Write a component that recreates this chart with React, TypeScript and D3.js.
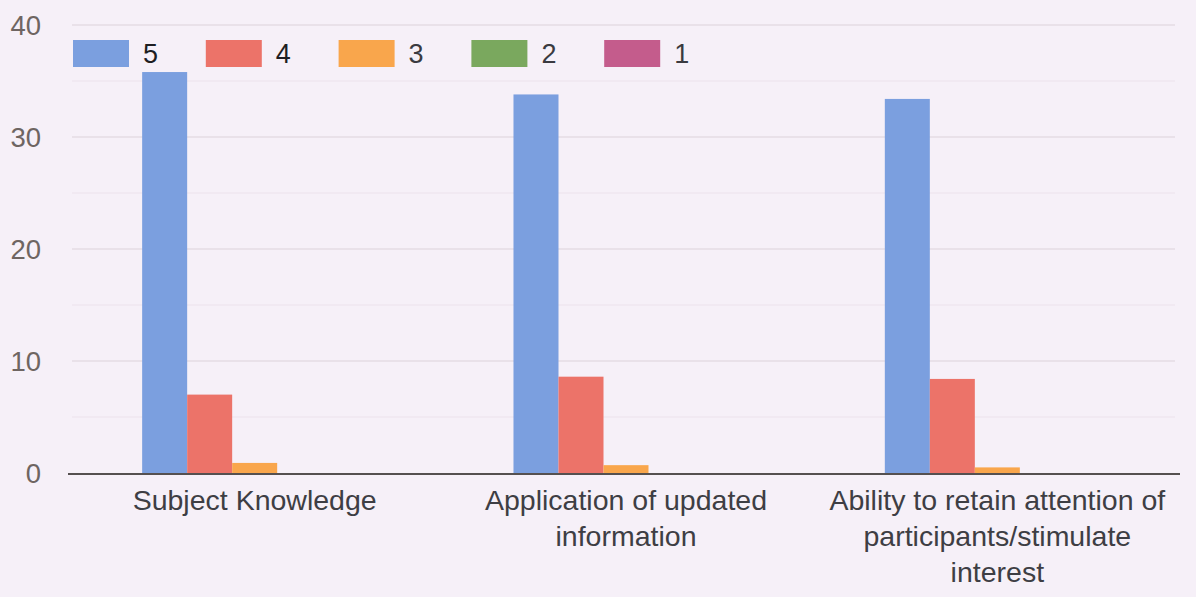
import React, { useEffect, useRef } from "react";
import * as d3 from "d3";

const categories = [
  "Subject Knowledge",
  "Application of updated information",
  "Ability to retain attention of participants/stimulate interest",
];
const seriesNames = ["5", "4", "3", "2", "1"];
const series5 = [35.8, 33.8, 33.4];
const series4 = [7.0, 8.6, 8.4];
const series3 = [0.9, 0.7, 0.5];
const series2 = [0, 0, 0];
const series1 = [0, 0, 0];
const seriesValues = [series5, series4, series3, series2, series1];
const seriesColors = ["#7b9fdf", "#ec7369", "#f9a64c", "#7aa85e", "#c45c8c"];
const yTicks = [0, 10, 20, 30, 40];
const gridTicks = [5, 10, 15, 20, 25, 30, 35, 40];

const W = 1196;
const H = 597;
const FONT = "'Liberation Sans', Arial, sans-serif";

export default function App() {
  const ref = useRef<SVGSVGElement | null>(null);

  useEffect(() => {
    document.body.style.margin = "0";
    const svg = d3.select(ref.current);
    svg.selectAll("*").remove();

    svg.append("rect").attr("width", W).attr("height", H).attr("fill", "#f6f0f8");

    const left = 69;
    const right = 1183;
    const y = d3.scaleLinear().domain([0, 40]).range([473, 25]);
    const x0 = d3.scaleBand<string>().domain(categories).range([left, right]).paddingInner(0);
    const groupW = x0.bandwidth() * 0.606;
    const x1 = d3.scaleBand<string>().domain(seriesNames).range([0, groupW]).padding(0);

    // gridlines
    svg
      .append("g")
      .selectAll("line")
      .data(gridTicks)
      .join("line")
      .attr("x1", left + 3)
      .attr("x2", right - 8)
      .attr("y1", (d) => y(d))
      .attr("y2", (d) => y(d))
      .attr("stroke", (d) => (d % 10 === 0 ? "#dcd2da" : "#ebe2ec"))
      .attr("stroke-width", 1.2);

    // y labels
    svg
      .append("g")
      .selectAll("text")
      .data(yTicks)
      .join("text")
      .attr("x", 41)
      .attr("y", (d) => y(d))
      .attr("dy", "0.36em")
      .attr("text-anchor", "end")
      .attr("font-family", FONT)
      .attr("font-size", 27.5)
      .attr("fill", "#6e6562")
      .text((d) => String(d));

    // bars
    const groups = svg
      .append("g")
      .selectAll("g")
      .data(categories)
      .join("g")
      .attr("transform", (c) => {
        const cx = (x0(c) as number) + x0.bandwidth() / 2;
        return `translate(${cx - groupW / 2},0)`;
      });

    groups
      .selectAll("rect")
      .data((c) =>
        seriesNames.map((s, si) => ({ s, v: seriesValues[si][categories.indexOf(c)], color: seriesColors[si] }))
      )
      .join("rect")
      .attr("x", (d) => x1(d.s) as number)
      .attr("width", x1.bandwidth())
      .attr("y", (d) => y(d.v))
      .attr("height", (d) => y(0) - y(d.v))
      .attr("fill", (d) => d.color);

    // baseline
    svg
      .append("line")
      .attr("x1", left - 1)
      .attr("x2", right - 3)
      .attr("y1", y(0) + 1)
      .attr("y2", y(0) + 1)
      .attr("stroke", "#555050")
      .attr("stroke-width", 2.2);

    // category labels with wrapping
    const maxW = 350;
    const labelG = svg.append("g");
    categories.forEach((c) => {
      const cx = (x0(c) as number) + x0.bandwidth() / 2;
      const t = labelG
        .append("text")
        .attr("x", cx)
        .attr("y", 510)
        .attr("text-anchor", "middle")
        .attr("font-family", FONT)
        .attr("font-size", 28.5)
        .attr("fill", "#3e3e44");
      const words = c.split(" ");
      const lines: string[] = [];
      let cur = "";
      const probe = t.append("tspan");
      words.forEach((w) => {
        const trial = cur ? cur + " " + w : w;
        probe.text(trial);
        const len = (probe.node() as SVGTSpanElement).getComputedTextLength();
        if (len > maxW && cur) {
          lines.push(cur);
          cur = w;
        } else {
          cur = trial;
        }
      });
      if (cur) lines.push(cur);
      probe.remove();
      lines.forEach((ln, i) => {
        t.append("tspan").attr("x", cx).attr("y", 510 + i * 36).text(ln);
      });
    });

    // legend
    const legend = svg
      .append("g")
      .selectAll("g")
      .data(seriesNames)
      .join("g")
      .attr("transform", (d, i) => `translate(${73 + i * 132.8},40)`);
    legend
      .append("rect")
      .attr("width", 56)
      .attr("height", 27)
      .attr("fill", (d, i) => seriesColors[i]);
    legend
      .append("text")
      .attr("x", 70)
      .attr("y", 13.5)
      .attr("dy", "0.36em")
      .attr("font-family", FONT)
      .attr("font-size", 27)
      .attr("fill", (d, i) => (i < 2 ? "#1e1e22" : "#3a3a40"))
      .text((d) => d);
  }, []);

  return <svg ref={ref} width={W} height={H} style={{ display: "block" }} />;
}
